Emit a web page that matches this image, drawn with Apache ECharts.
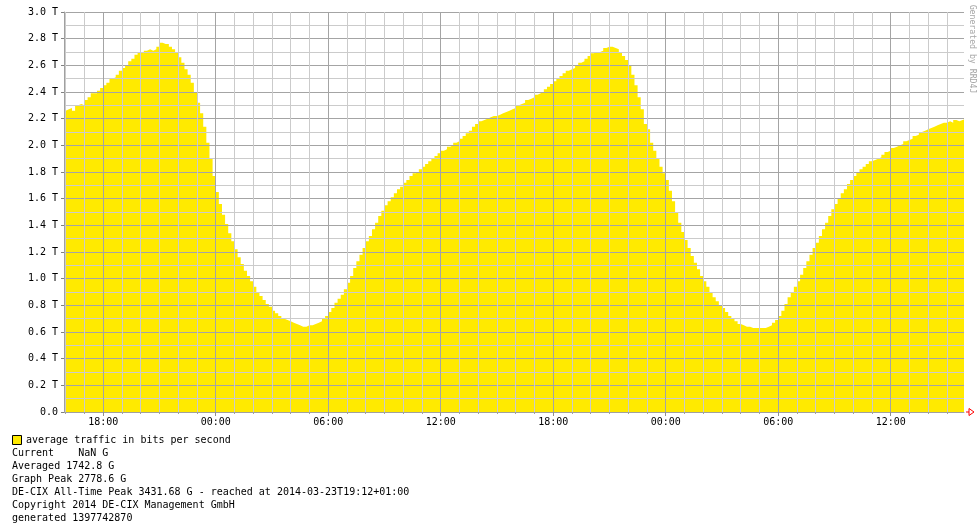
<!DOCTYPE html>
<html>
<head>
<meta charset="utf-8">
<script src="https://cdn.jsdelivr.net/npm/echarts@6/dist/echarts.min.js"></script>
<style>
html,body{margin:0;padding:0;background:#fff;}
#chart{width:980px;height:532px;}
</style>
</head>
<body>
<div id="chart"></div>
<script>
// Time window (hours since 00:00 of day 1)
const windowStart = 15 + 54.5 / 60;   // 15:54:30
const windowEnd = windowStart + 48;
// first sample time and sample spacing (10 minutes)
const sampleStart = 15 + 50 / 60;
const sampleStep = 1 / 6;

// average traffic, Tbit/s, every 10 minutes from 15:50
const traffic = [
  2.26,
  2.27, 2.28, 2.26, 2.30, 2.31, 2.30,
  2.34, 2.36, 2.39, 2.39, 2.41, 2.43,
  2.45, 2.47, 2.50, 2.51, 2.53, 2.56,
  2.58, 2.60, 2.63, 2.65, 2.68, 2.70,
  2.69, 2.71, 2.72, 2.71, 2.72, 2.74,
  2.77, 2.76, 2.76, 2.74, 2.72, 2.70,
  2.66, 2.62, 2.57, 2.53, 2.47, 2.40,
  2.32, 2.24, 2.14, 2.02, 1.90, 1.77,
  1.65, 1.56, 1.48, 1.41, 1.34, 1.28,
  1.22, 1.16, 1.11, 1.06, 1.02, 0.98,
  0.94, 0.90, 0.87, 0.84, 0.81, 0.79,
  0.76, 0.74, 0.72, 0.70, 0.69, 0.68,
  0.67, 0.66, 0.65, 0.64, 0.64, 0.65,
  0.65, 0.66, 0.67, 0.68, 0.70, 0.72,
  0.75, 0.78, 0.82, 0.85, 0.88, 0.92,
  0.97, 1.02, 1.08, 1.13, 1.18, 1.23,
  1.28, 1.32, 1.37, 1.42, 1.47, 1.51,
  1.55, 1.58, 1.61, 1.64, 1.67, 1.69,
  1.72, 1.74, 1.77, 1.79, 1.80, 1.82,
  1.84, 1.86, 1.88, 1.90, 1.92, 1.94,
  1.96, 1.97, 1.99, 2.00, 2.02, 2.03,
  2.05, 2.07, 2.09, 2.11, 2.14, 2.16,
  2.18, 2.19, 2.20, 2.21, 2.22, 2.22,
  2.23, 2.24, 2.25, 2.26, 2.27, 2.28,
  2.30, 2.31, 2.32, 2.34, 2.35, 2.36,
  2.38, 2.39, 2.40, 2.42, 2.44, 2.46,
  2.48, 2.50, 2.52, 2.54, 2.56, 2.57,
  2.58, 2.60, 2.62, 2.63, 2.65, 2.67,
  2.69, 2.70, 2.70, 2.71, 2.73, 2.74,
  2.74, 2.73, 2.72, 2.70, 2.67, 2.64,
  2.60, 2.53, 2.45, 2.36, 2.27, 2.16,
  2.12, 2.02, 1.96, 1.90, 1.84, 1.79,
  1.74, 1.66, 1.58, 1.50, 1.42, 1.35,
  1.29, 1.23, 1.17, 1.12, 1.07, 1.02,
  0.98, 0.94, 0.90, 0.86, 0.83, 0.80,
  0.78, 0.75, 0.72, 0.70, 0.68, 0.66,
  0.65, 0.64, 0.64, 0.63, 0.63, 0.63,
  0.63, 0.63, 0.64, 0.65, 0.67, 0.69,
  0.72, 0.76, 0.81, 0.86, 0.90, 0.94,
  0.98, 1.03, 1.08, 1.13, 1.18, 1.23,
  1.27, 1.32, 1.37, 1.42, 1.47, 1.52,
  1.56, 1.60, 1.64, 1.67, 1.71, 1.74,
  1.77, 1.80, 1.82, 1.84, 1.86, 1.88,
  1.89, 1.90, 1.91, 1.93, 1.95, 1.96,
  1.98, 1.99, 2.00, 2.01, 2.03, 2.04,
  2.05, 2.07, 2.08, 2.10, 2.11, 2.12,
  2.13, 2.14, 2.15, 2.16, 2.17, 2.17,
  2.18, 2.17, 2.19, 2.18, 2.19, 2.20,
  2.19
];

// hourly minor grid positions and 6-hourly major positions (hours)
const hourTicks = [16,17,18,19,20,21,22,23,24,25,26,27,28,29,30,31,32,33,34,35,36,37,38,39,40,
  41,42,43,44,45,46,47,48,49,50,51,52,53,54,55,56,57,58,59,60,61,62,63];
const majorTicks = [18, 24, 30, 36, 42, 48, 54, 60];
const majorLabels = ['18:00', '00:00', '06:00', '12:00', '18:00', '00:00', '06:00', '12:00'];

const legendLines = [
  'Current    NaN G',
  'Averaged 1742.8 G',
  'Graph Peak 2778.6 G',
  'DE-CIX All-Time Peak 3431.68 G - reached at 2014-03-23T19:12+01:00',
  'Copyright 2014 DE-CIX Management GmbH',
  'generated 1397742870'
];
const legendTitle = 'average traffic in bits per second';

const FONT = "'DejaVu Sans Mono', monospace";
const YELLOW = '#ffea00';
const GRID_MINOR = '#cbcbcb';
const GRID_MAJOR = '#a4a4a4';

const seriesData = traffic.map((v, i) => [sampleStart + i * sampleStep, v]);

const chart = echarts.init(document.getElementById('chart'), null, {renderer: 'canvas'});

const texts = [];
texts.push({
  type: 'rect', left: 12, top: 435,
  shape: {width: 9, height: 9},
  style: {fill: YELLOW, stroke: '#000', lineWidth: 1}
});
texts.push({
  type: 'text', x: 26, y: 440.5,
  style: {text: legendTitle, font: '10px ' + FONT, fill: '#000', textVerticalAlign: 'middle', verticalAlign: 'middle'}
});
legendLines.forEach((t, i) => {
  texts.push({
    type: 'text', x: 12, y: 453.5 + i * 13,
    style: {text: t, font: '10px ' + FONT, fill: '#000', verticalAlign: 'middle', textVerticalAlign: 'middle'}
  });
});
texts.push({
  type: 'text', x: 972, y: 49, rotation: -Math.PI / 2,
  style: {text: 'Generated by RRD4J', font: '8.2px ' + FONT, fill: '#a6a6a6', align: 'center', verticalAlign: 'middle', textAlign: 'center', textVerticalAlign: 'middle'}
});

const option = {
  animation: false,
  backgroundColor: '#fff',
  grid: {left: 64, right: 16, top: 12, bottom: 120, containLabel: false},
  xAxis: [
    {
      type: 'value', min: windowStart, max: windowEnd,
      axisLine: {show: true, onZero: false, lineStyle: {color: '#a0a0a0', width: 1}},
      axisTick: {show: true, length: 2, customValues: hourTicks, lineStyle: {color: '#a0a0a0'}},
      axisLabel: {show: false, customValues: hourTicks},
      splitLine: {show: true, lineStyle: {color: GRID_MINOR, width: 1}}
    },
    {
      type: 'value', min: windowStart, max: windowEnd, position: 'bottom',
      axisLine: {show: false, onZero: false},
      axisTick: {show: true, length: 4, customValues: majorTicks, lineStyle: {color: '#909090'}},
      axisLabel: {
        show: true, customValues: majorTicks, margin: 5,
        fontFamily: FONT, fontSize: 10, color: '#000',
        formatter: (v) => majorLabels[majorTicks.indexOf(Math.round(v))] || ''
      },
      splitLine: {show: true, lineStyle: {color: GRID_MAJOR, width: 1}}
    }
  ],
  yAxis: {
    type: 'value', min: 0, max: 3, interval: 0.2,
    axisLine: {show: true, lineStyle: {color: '#a0a0a0'}},
    axisTick: {show: true, length: 3, lineStyle: {color: '#808080'}},
    axisLabel: {
      margin: 6, fontFamily: FONT, fontSize: 10, color: '#000',
      formatter: (v) => v === 0 ? '0.0' : v.toFixed(1) + ' T'
    },
    splitLine: {show: true, lineStyle: {color: GRID_MAJOR, width: 1}},
    minorTick: {show: false, splitNumber: 2},
    minorSplitLine: {show: true, lineStyle: {color: GRID_MINOR, width: 1}}
  },
  series: [{
    type: 'line', xAxisIndex: 0, yAxisIndex: 0,
    data: seriesData, step: 'end', symbol: 'none', showSymbol: false,
    z: -1, clip: true,
    lineStyle: {width: 0, opacity: 0},
    areaStyle: {color: YELLOW, opacity: 1}
  }],
  graphic: texts
};
chart.setOption(option);

// red arrow at the end of the time axis
const endPt = chart.convertToPixel({xAxisIndex: 0, yAxisIndex: 0}, [windowEnd, 0]);
chart.setOption({graphic: texts.concat([
  {type: 'polyline', shape: {points: [[endPt[0] + 2, endPt[1]], [endPt[0] + 5, endPt[1]]]}, style: {stroke: '#ff0000', lineWidth: 1}},
  {type: 'polygon', shape: {points: [[endPt[0] + 5, endPt[1] - 3.5], [endPt[0] + 5, endPt[1] + 3.5], [endPt[0] + 10, endPt[1]]]}, style: {fill: 'none', stroke: '#ff0000', lineWidth: 1}}
])});
</script>
</body>
</html>
